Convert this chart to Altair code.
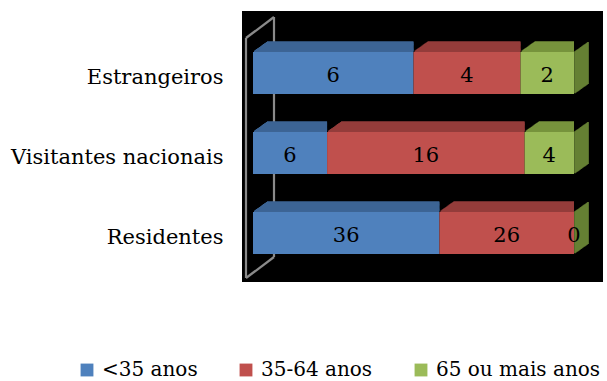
import altair as alt
import pandas as pd

# Source data: number of respondents by visitor type and age group
categories = ["Estrangeiros", "Visitantes nacionais", "Residentes"]
age_groups = ["<35 anos", "35-64 anos", "65 ou mais anos"]
under_35 = [6, 6, 36]
age_35_64 = [4, 16, 26]
over_65 = [2, 4, 0]

front_colors = ["#4f81bd", "#c0504d", "#9bbb59"]
top_colors = ["#3d6595", "#943c3b", "#77933c"]
side_color = "#6a8636"
FONT = "DejaVu Serif"
FS = 21

# Build a long table with normalised (100 %) stack positions
rows = []
series = [under_35, age_35_64, over_65]
for ci, cat in enumerate(categories):
    total = sum(s[ci] for s in series)
    start = 0.0
    for si, grp in enumerate(age_groups):
        v = series[si][ci]
        end = start + v / total
        rows.append({
            "categoria": cat,
            "grupo": grp,
            "ordem": si,
            "valor": v,
            "inicio": start,
            "fim": end,
            "meio": (start + end) / 2,
            "topo": top_colors[si],
        })
        start = end
df = pd.DataFrame(rows)

W, H = 321, 240
DEPTH_X, DEPTH_Y = 14, 10      # extrusion of the 3-D bars, px
LIFT = 5                        # bars sit slightly behind the front plane
HALF = 21                       # half of the bar thickness

yscale = alt.Scale(domain=categories, paddingInner=0.475, paddingOuter=0.2375)
x_enc = alt.X("inicio:Q", scale=alt.Scale(domain=[0, 1], nice=False, zero=True), axis=None)
y_enc = alt.Y("categoria:N", scale=yscale, sort=categories, title=None,
              axis=alt.Axis(domain=False, ticks=False, labelFont=FONT, labelFontSize=FS,
                            labelColor="#000000", labelPadding=30, labelLimit=300))

base = alt.Chart(df)
one_row = "datum.ordem == 0 && datum.categoria == 'Residentes'"

# black backdrop of the plotting area
backdrop = base.mark_rect(color="#000000").encode(
    x=alt.value(-11), x2=alt.value(350), y=alt.value(-27), y2=alt.value(244)
).transform_filter(one_row)

# grey side wall drawn in perspective
wall_style = dict(color="#8a8a8a", strokeWidth=2.2)
wall = [
    base.mark_rule(**wall_style).encode(x=alt.value(-7), y=alt.value(0), y2=alt.value(240)),
    base.mark_rule(**wall_style).encode(x=alt.value(21), y=alt.value(-21), y2=alt.value(219)),
    base.mark_rule(**wall_style).encode(x=alt.value(-7), x2=alt.value(21), y=alt.value(0), y2=alt.value(-21)),
    base.mark_rule(**wall_style).encode(x=alt.value(-7), x2=alt.value(21), y=alt.value(240), y2=alt.value(219)),
]
wall = [w.transform_filter(one_row) for w in wall]

# right-hand side face of each bar (end of the last segment)
sides = []
for k in range(DEPTH_X, 0, -1):
    dy = -LIFT - k * DEPTH_Y / DEPTH_X
    sides.append(
        base.mark_tick(orient="vertical", size=2 * HALF, thickness=1.6, color=side_color,
                       opacity=1, xOffset=k, yOffset=dy)
        .encode(x=alt.X("fim:Q", scale=alt.Scale(domain=[0, 1], nice=False), axis=None),
                y=y_enc)
        .transform_filter("datum.ordem == 2")
    )

# top faces of every segment
tops = []
for k in range(DEPTH_X, 0, -1):
    dy = -LIFT - HALF - k * DEPTH_Y / DEPTH_X
    tops.append(
        base.mark_rule(strokeWidth=1.6, xOffset=k, yOffset=dy)
        .encode(x=x_enc, x2="fim:Q", y=y_enc,
                stroke=alt.Stroke("topo:N", scale=None))
        .transform_filter("datum.valor > 0")
    )

# front faces
front = base.mark_bar(yOffset=-LIFT, opacity=1).encode(
    x=x_enc, x2="fim:Q", y=y_enc,
    color=alt.Color("grupo:N", scale=alt.Scale(domain=age_groups, range=front_colors),
                    sort=age_groups,
                    legend=alt.Legend(title=None, orient="none", direction="horizontal",
                                      legendX=-176, legendY=322, symbolType="square",
                                      symbolSize=165, symbolStrokeWidth=0,
                                      labelFont=FONT, labelFontSize=20, labelColor="#000000",
                                      columnPadding=38, labelOffset=5, padding=0,
                                      labelLimit=400)),
)

labels = base.mark_text(font=FONT, fontSize=FS, color="#000000", baseline="middle",
                        yOffset=-LIFT + 3).encode(
    x=alt.X("meio:Q", scale=alt.Scale(domain=[0, 1], nice=False), axis=None),
    y=y_enc,
    text="valor:Q",
)

chart = alt.layer(backdrop, *wall, *sides, *tops, front, labels).properties(
    width=W, height=H,
    autosize=alt.AutoSizeParams(type="none"),
    padding={"left": 253, "top": 38, "right": 33, "bottom": 103},
    background="#ffffff",
).configure_view(stroke=None)

chart.save("out.html", embed_options={"renderer": "svg", "actions": False})
